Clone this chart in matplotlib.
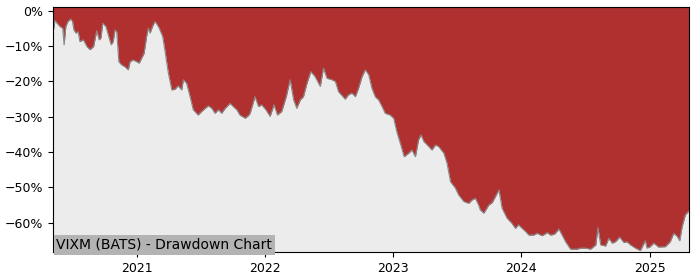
import matplotlib
matplotlib.use("Agg")
import matplotlib.pyplot as plt
import matplotlib.dates as mdates
from matplotlib.ticker import FuncFormatter
import pandas as pd

# drawdown series (percent below running peak)
dates = [
    "2020-05-07", "2020-05-12", "2020-05-18", "2020-05-26", "2020-06-03", "2020-06-07",
    "2020-06-12", "2020-06-18", "2020-06-26", "2020-07-01", "2020-07-05", "2020-07-11",
    "2020-07-17", "2020-07-22", "2020-08-01", "2020-08-11", "2020-08-20", "2020-08-30",
    "2020-09-08", "2020-09-15", "2020-09-20", "2020-09-25", "2020-10-04", "2020-10-11",
    "2020-10-19", "2020-10-25", "2020-10-30", "2020-11-04", "2020-11-10", "2020-11-18",
    "2020-11-27", "2020-12-07", "2020-12-12", "2020-12-21", "2020-12-31", "2021-01-07",
    "2021-01-14", "2021-01-21", "2021-01-28", "2021-02-02", "2021-02-07", "2021-02-14",
    "2021-02-21", "2021-02-26", "2021-03-05", "2021-03-15", "2021-03-21", "2021-03-31",
    "2021-04-10", "2021-04-19", "2021-04-28", "2021-05-08", "2021-05-13", "2021-05-22",
    "2021-06-01", "2021-06-10", "2021-06-24", "2021-07-04", "2021-07-14", "2021-07-23",
    "2021-08-02", "2021-08-11", "2021-08-21", "2021-08-30", "2021-09-09", "2021-09-23",
    "2021-10-02", "2021-10-12", "2021-10-21", "2021-11-05", "2021-11-14", "2021-11-19",
    "2021-12-03", "2021-12-13", "2021-12-22", "2022-01-03", "2022-01-15", "2022-01-26",
    "2022-02-05", "2022-02-17", "2022-03-02", "2022-03-13", "2022-03-23", "2022-04-01",
    "2022-04-11", "2022-04-20", "2022-04-30", "2022-05-11", "2022-05-23", "2022-06-07",
    "2022-06-16", "2022-06-26", "2022-07-10", "2022-07-20", "2022-07-29", "2022-08-17",
    "2022-08-26", "2022-09-05", "2022-09-15", "2022-09-24", "2022-10-04", "2022-10-13",
    "2022-10-23", "2022-11-01", "2022-11-11", "2022-11-20", "2022-11-30", "2022-12-09",
    "2022-12-23", "2023-01-02", "2023-01-12", "2023-01-21", "2023-02-01", "2023-02-14",
    "2023-02-23", "2023-03-05", "2023-03-14", "2023-03-21", "2023-03-29", "2023-04-12",
    "2023-04-21", "2023-05-01", "2023-05-10", "2023-05-25", "2023-06-03", "2023-06-13",
    "2023-06-27", "2023-07-06", "2023-07-21", "2023-08-04", "2023-08-14", "2023-08-23",
    "2023-09-01", "2023-09-06", "2023-09-16", "2023-09-30", "2023-10-10", "2023-10-19",
    "2023-10-29", "2023-11-07", "2023-11-21", "2023-12-05", "2023-12-15", "2023-12-24",
    "2024-01-03", "2024-01-13", "2024-01-22", "2024-02-05", "2024-02-15", "2024-02-29",
    "2024-03-15", "2024-03-24", "2024-04-04", "2024-04-17", "2024-04-26", "2024-05-06",
    "2024-05-20", "2024-06-08", "2024-06-18", "2024-07-02", "2024-07-16", "2024-07-31",
    "2024-08-06", "2024-08-14", "2024-08-28", "2024-09-06", "2024-09-16", "2024-09-25",
    "2024-10-07", "2024-10-19", "2024-10-28", "2024-11-07", "2024-11-21", "2024-12-05",
    "2024-12-19", "2024-12-24", "2025-01-02", "2025-01-12", "2025-01-26", "2025-02-14",
    "2025-02-28", "2025-03-10", "2025-03-20", "2025-03-27", "2025-04-03", "2025-04-12",
    "2025-04-22",
]
drawdown = [
    -5.9, -2.7, -3.5, -4.4, -4.9, -9.6,
    -4.4, -3.0, -2.3, -3.0, -5.4, -6.3,
    -5.9, -8.7, -8.2, -10.1, -11.0, -10.1,
    -5.6, -8.2, -7.7, -3.5, -4.4, -6.8,
    -9.6, -8.7, -5.4, -5.9, -14.4, -15.3,
    -15.8, -16.7, -14.4, -13.9, -14.4, -14.8,
    -13.4, -12.0, -7.3, -4.9, -6.3, -4.4,
    -3.0, -3.7, -4.9, -7.3, -11.0, -17.6,
    -22.4, -22.2, -21.2, -22.4, -19.5, -20.5,
    -24.3, -28.0, -29.5, -28.5, -27.6, -26.9,
    -27.6, -29.0, -28.0, -29.0, -27.6, -26.2,
    -27.1, -28.0, -29.5, -30.4, -29.7, -29.0,
    -24.3, -27.1, -26.6, -28.0, -29.9, -26.6,
    -29.5, -28.5, -24.3, -19.5, -25.2, -27.6,
    -25.2, -24.3, -20.5, -17.2, -18.6, -21.4,
    -16.2, -19.1, -19.5, -20.0, -22.9, -25.0,
    -23.8, -23.3, -24.3, -21.9, -18.6, -16.7,
    -18.1, -21.9, -24.4, -25.2, -27.1, -29.0,
    -29.5, -30.4, -34.6, -37.5, -41.3, -40.3,
    -39.4, -41.3, -36.5, -35.1, -37.0, -38.4,
    -39.4, -38.0, -38.4, -40.3, -43.1, -48.4,
    -50.2, -52.1, -54.0, -54.5, -53.5, -53.1,
    -55.0, -56.4, -57.3, -55.0, -54.3, -52.6,
    -50.7, -55.9, -58.7, -60.2, -61.6, -60.6,
    -61.6, -62.5, -63.5, -63.5, -63.0, -63.7,
    -62.8, -63.5, -63.3, -61.8, -63.5, -65.4,
    -67.5, -67.5, -67.2, -67.2, -67.5, -66.3,
    -61.4, -66.3, -66.6, -64.4, -65.8, -65.4,
    -64.1, -65.6, -65.4, -66.3, -67.2, -67.9,
    -65.1, -67.2, -66.8, -65.8, -66.9, -66.8,
    -65.4, -63.0, -63.9, -65.1, -61.1, -57.8,
    -56.7,
]
title = "VIXM (BATS) - Drawdown Chart"
yticks = [0, -10, -20, -30, -40, -50, -60]

x = pd.to_datetime(dates)

fig = plt.figure(figsize=(7, 2.8), dpi=100)
ax = fig.add_axes([0.076, 0.1, 0.908, 0.875])
ax.set_facecolor("#ececec")

ax.fill_between(x, drawdown, 5, color="#b03030", linewidth=0)
ax.plot(x, drawdown, color="#888888", linewidth=0.8)

ax.set_xlim(x[0], x[-1])
ax.set_ylim(-68.3, 1.1)
ax.set_yticks(yticks)
ax.yaxis.set_major_formatter(FuncFormatter(lambda v, p: f"{v:.0f}%".replace("-", "\u2212")))
ax.xaxis.set_major_locator(mdates.YearLocator())
ax.xaxis.set_major_formatter(mdates.DateFormatter("%Y"))
ax.tick_params(labelsize=9)

ax.text(0.005, 0.0, title, transform=ax.transAxes, fontsize=10, va="bottom", ha="left",
        bbox=dict(facecolor="#b3b3b3", edgecolor="none", pad=2))

fig.savefig("out.png", dpi=100)
